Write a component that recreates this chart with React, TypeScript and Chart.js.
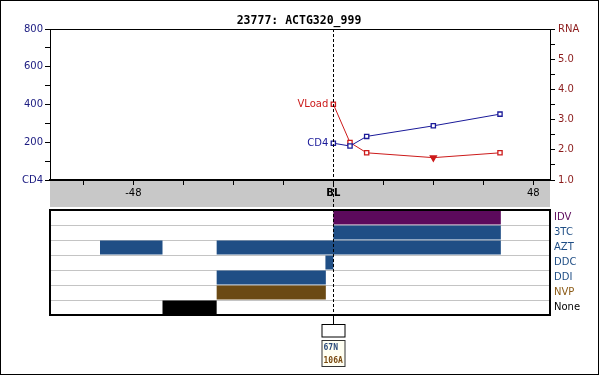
import React, { useEffect, useRef } from 'react';
import { Chart, registerables } from 'chart.js';

Chart.register(...registerables);

// ---------- data ----------
const chartTitle = '23777: ACTG320_999';
const weeks = [0, 4, 8, 24, 40];
const cd4Values = [195, 180, 231, 287, 349];
const rnaValues = [3.51, 2.24, 1.9, 1.74, 1.9];
const rnaBelowLimit = [false, false, false, true, false];
const xTickValues = [-60, -48, -36, -24, -12, 0, 12, 24, 36, 48];
const xTickLabels: Record<string, string> = { '-48': '-48', '0': 'BL', '48': '48' };
const cd4TickValues = [0, 100, 200, 300, 400, 500, 600, 700, 800];
const rnaTickValues = [1, 1.5, 2, 2.5, 3, 3.5, 4, 4.5, 5, 5.5, 6];
const drugs = ['IDV', '3TC', 'AZT', 'DDC', 'DDI', 'NVP', 'None'];
const drugLabelColors = ['#5c0a5c', '#1f4e85', '#1f4e85', '#1f4e85', '#1f4e85', '#8b5a14', '#000000'];
const segDrug = ['IDV', '3TC', 'AZT', 'AZT', 'DDC', 'DDI', 'NVP', 'None'];
const segStart = [0, 0, -56, -28, -1.9, -28, -28, -41];
const segEnd = [40.2, 40.2, -41, 40.2, 0, -1.8, -1.8, -28];
const segColor = ['#5c0a5c', '#1f4e85', '#1f4e85', '#1f4e85', '#1f4e85', '#1f4e85', '#6b4a14', '#000000'];
const mutations = ['67N', '106A'];
const mutationColors = ['#2a4a7a', '#7a4a10'];

const X_MIN = -68;
const X_MAX = 52;
const CD4_COLOR = '#1a1a99';
const RNA_COLOR = '#cc1a1a';

export default function App() {
  const topRef = useRef<HTMLCanvasElement>(null);
  const drugRef = useRef<HTMLCanvasElement>(null);

  useEffect(() => {
    const decor = {
      id: 'decor',
      beforeDraw(chart: any) {
        const { ctx, chartArea: ca } = chart;
        ctx.save();
        ctx.fillStyle = '#c8c8c8';
        ctx.fillRect(ca.left, ca.bottom, ca.right - ca.left, 27);
        ctx.restore();
      },
      afterDraw(chart: any) {
        const { ctx, chartArea: ca, scales } = chart;
        ctx.save();
        // plot box top line
        ctx.strokeStyle = '#000';
        ctx.lineWidth = 1;
        ctx.beginPath();
        ctx.moveTo(ca.left, Math.round(ca.top) + 0.5);
        ctx.lineTo(ca.right, Math.round(ca.top) + 0.5);
        ctx.stroke();
        // title
        ctx.fillStyle = '#000';
        ctx.font = 'bold 11.5px "DejaVu Sans Mono"';
        ctx.textAlign = 'center';
        ctx.textBaseline = 'alphabetic';
        ctx.fillText(chartTitle, 299, 24);
        // BL dashed line
        const xb = Math.round(scales.x.getPixelForValue(0)) + 0.5;
        ctx.setLineDash([3, 2]);
        ctx.beginPath();
        ctx.moveTo(xb, ca.top);
        ctx.lineTo(xb, 314);
        ctx.stroke();
        ctx.setLineDash([]);
        ctx.beginPath();
        ctx.moveTo(xb, 314);
        ctx.lineTo(xb, 324);
        ctx.stroke();
        // series labels
        ctx.font = '10px "DejaVu Sans"';
        ctx.textAlign = 'right';
        ctx.textBaseline = 'middle';
        ctx.fillStyle = RNA_COLOR;
        ctx.fillText('VLoad', scales.x.getPixelForValue(weeks[0]) - 5, scales.yRNA.getPixelForValue(rnaValues[0]));
        ctx.fillStyle = CD4_COLOR;
        ctx.fillText('CD4', scales.x.getPixelForValue(weeks[0]) - 5, scales.yCD4.getPixelForValue(cd4Values[0]));
        // mutation boxes
        const bx = xb - 11.5;
        ctx.fillStyle = '#fff';
        ctx.fillRect(bx, 324, 23, 13);
        ctx.strokeStyle = '#000';
        ctx.strokeRect(bx, 324.5, 23, 12.5);
        ctx.fillStyle = '#fffff2';
        ctx.fillRect(bx, 340.5, 23, 26);
        ctx.strokeStyle = '#333';
        ctx.strokeRect(bx, 340.5, 23, 26);
        ctx.font = 'bold 8px "DejaVu Sans Mono"';
        ctx.textAlign = 'left';
        ctx.textBaseline = 'alphabetic';
        mutations.forEach((m, i) => {
          ctx.fillStyle = mutationColors[i];
          ctx.fillText(m, bx + 1.5, 350 + i * 13);
        });
        // outer border
        ctx.strokeStyle = '#000';
        ctx.lineWidth = 1;
        ctx.strokeRect(0.5, 0.5, 598, 374);
        ctx.restore();
      },
    };

    const font10 = { family: 'DejaVu Sans', size: 10 };

    const top = new Chart(topRef.current!, {
      type: 'line',
      data: {
        datasets: [
          {
            label: 'CD4',
            data: weeks.map((w, i) => ({ x: w, y: cd4Values[i] })),
            yAxisID: 'yCD4',
            borderColor: CD4_COLOR,
            borderWidth: 1,
            pointStyle: 'rect',
            pointRadius: 3,
            pointBackgroundColor: '#fff',
            pointBorderColor: CD4_COLOR,
            pointBorderWidth: 1.3,
            tension: 0,
          },
          {
            label: 'VLoad',
            data: weeks.map((w, i) => ({ x: w, y: rnaValues[i] })),
            yAxisID: 'yRNA',
            borderColor: RNA_COLOR,
            borderWidth: 1,
            pointStyle: rnaBelowLimit.map((b) => (b ? 'triangle' : 'rect')) as any,
            pointRotation: rnaBelowLimit.map((b) => (b ? 180 : 0)),
            pointRadius: rnaBelowLimit.map((b) => (b ? 3.5 : 3)),
            pointBackgroundColor: rnaBelowLimit.map((b) => (b ? RNA_COLOR : '#fff')),
            pointBorderColor: RNA_COLOR,
            pointBorderWidth: 1.3,
            tension: 0,
          },
        ],
      },
      options: {
        responsive: false,
        animation: false,
        devicePixelRatio: 1,
        layout: { padding: { top: 29, bottom: 170, left: 0, right: 0 } },
        plugins: { legend: { display: false }, tooltip: { enabled: false }, title: { display: false } },
        scales: {
          x: {
            type: 'linear',
            min: X_MIN,
            max: X_MAX,
            position: 'bottom',
            afterFit: (s: any) => { s.height = 27; },
            afterBuildTicks: (s: any) => { s.ticks = xTickValues.map((v) => ({ value: v })); },
            grid: { drawOnChartArea: false, drawTicks: true, tickLength: 5, color: '#000', tickColor: '#000' },
            border: { display: true, color: '#000', width: 2 },
            ticks: {
              autoSkip: false,
              maxRotation: 0,
              padding: 2,
              color: '#000',
              font: (c: any) => ({ ...font10, weight: c.tick && c.tick.value === 0 ? 'bold' : 'normal' }),
              callback: (v: any) => xTickLabels[String(v)] ?? '',
            },
          },
          yCD4: {
            type: 'linear',
            position: 'left',
            min: 0,
            max: 800,
            afterFit: (s: any) => { s.width = 50; },
            afterBuildTicks: (s: any) => { s.ticks = cd4TickValues.map((v) => ({ value: v })); },
            grid: { drawOnChartArea: false, drawTicks: true, tickLength: 5, color: '#000', tickColor: '#000' },
            border: { display: true, color: '#000', width: 1 },
            ticks: {
              autoSkip: false,
              padding: 2,
              color: '#1a1a80',
              font: font10,
              callback: (v: any) => (v === 0 ? 'CD4' : v % 200 === 0 ? String(v) : ''),
            },
          },
          yRNA: {
            type: 'linear',
            position: 'right',
            min: 1,
            max: 6,
            afterFit: (s: any) => { s.width = 50; },
            afterBuildTicks: (s: any) => { s.ticks = rnaTickValues.map((v) => ({ value: v })); },
            grid: { drawOnChartArea: false, drawTicks: true, tickLength: 5, color: '#000', tickColor: '#000' },
            border: { display: true, color: '#000', width: 1 },
            ticks: {
              autoSkip: false,
              padding: 3,
              color: '#8b1a1a',
              font: font10,
              callback: (v: any) => (v === 6 ? 'RNA' : Number.isInteger(v) ? v.toFixed(1) : ''),
            },
          },
        },
      } as any,
      plugins: [decor],
    });

    const boxPlugin = {
      id: 'box',
      afterDraw(chart: any) {
        const { ctx, chartArea: ca } = chart;
        ctx.save();
        ctx.strokeStyle = '#000';
        ctx.lineWidth = 2;
        ctx.strokeRect(ca.left, ca.top, ca.right - ca.left, ca.bottom - ca.top);
        ctx.restore();
      },
    };

    const drug = new Chart(drugRef.current!, {
      type: 'bar',
      data: {
        labels: drugs,
        datasets: [
          {
            data: segDrug.map((d, i) => ({ x: [segStart[i], segEnd[i]], y: d })) as any,
            backgroundColor: segColor,
            borderWidth: 0,
            barPercentage: 14 / 15,
            categoryPercentage: 1,
            grouped: false,
          } as any,
        ],
      },
      options: {
        indexAxis: 'y',
        responsive: false,
        animation: false,
        devicePixelRatio: 1,
        layout: { padding: { top: 5, bottom: 5, left: 50, right: 0 } },
        plugins: { legend: { display: false }, tooltip: { enabled: false } },
        scales: {
          x: { type: 'linear', min: X_MIN, max: X_MAX, display: false },
          y: {
            type: 'category',
            position: 'right',
            afterFit: (s: any) => { s.width = 50; s.paddingTop = 0; s.paddingBottom = 0; },
            grid: { color: '#c4c4c4', drawTicks: false, offset: true },
            border: { display: false },
            ticks: {
              padding: 4,
              color: (c: any) => drugLabelColors[c.index],
              font: font10,
            },
          },
        },
      } as any,
      plugins: [boxPlugin],
    });

    return () => {
      top.destroy();
      drug.destroy();
    };
  }, []);

  return (
    <div style={{ position: 'fixed', left: 0, top: 0, width: 600, height: 377, background: '#fff', overflow: 'hidden' }}>
      <canvas ref={drugRef} width={600} height={115} style={{ position: 'absolute', left: 0, top: 205, width: 600, height: 115 }} />
      <canvas ref={topRef} width={600} height={377} style={{ position: 'absolute', left: 0, top: 0, width: 600, height: 377, zIndex: 1, pointerEvents: 'none' }} />
    </div>
  );
}
